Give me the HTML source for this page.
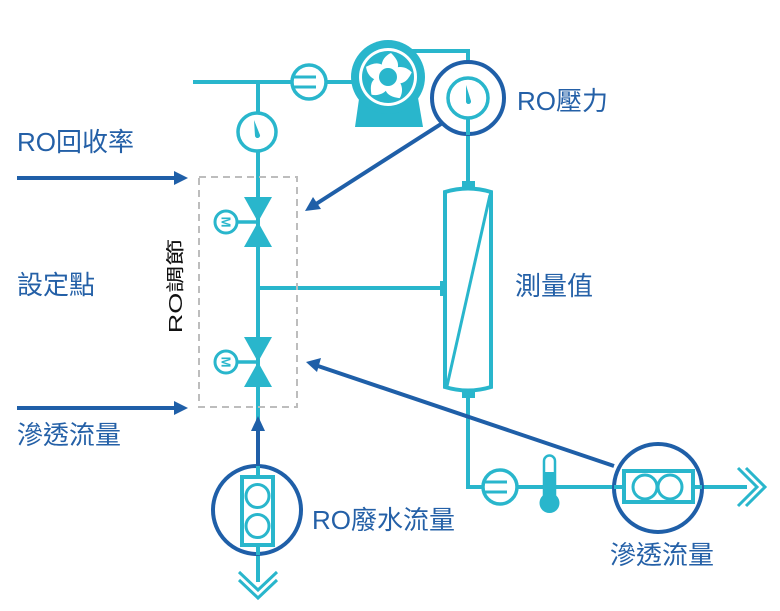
<!DOCTYPE html>
<html><head><meta charset="utf-8"><style>
html,body{margin:0;padding:0;background:#fff;}
svg{display:block;}
text{font-family:"Liberation Sans","Noto Sans CJK TC","Noto Sans CJK SC",sans-serif;}
</style></head><body>
<svg width="780" height="611" viewBox="0 0 780 611" xmlns="http://www.w3.org/2000/svg">
<g fill="none" stroke="#29b6cc" stroke-width="4">
  <line x1="193" y1="82" x2="355" y2="82"/>
  <line x1="258" y1="82" x2="258" y2="582"/>
  <polyline points="412,51 468,51 468,184"/>
  <line x1="468" y1="392" x2="468" y2="487"/>
  <line x1="466" y1="487" x2="747" y2="487"/>
  <line x1="258" y1="288" x2="444" y2="288"/>
  <path d="M445,192 Q468,185 491,192 L491,387 Q468,394 445,387 Z" stroke-width="4"/>
  <line x1="447" y1="386" x2="490" y2="195" stroke-width="3"/>
</g>
<rect x="462" y="181" width="13" height="8" fill="#29b6cc"/>
<rect x="462" y="390" width="13" height="8" fill="#29b6cc"/>
<rect x="440" y="281" width="6" height="15" fill="#29b6cc"/>

<rect x="199" y="177" width="98" height="230" fill="none" stroke="#bdbdbd" stroke-width="2" stroke-dasharray="7,5"/>

<circle cx="309" cy="82" r="17" fill="#fff" stroke="#29b6cc" stroke-width="3.5"/>
<line x1="293" y1="77" x2="316" y2="77" stroke="#29b6cc" stroke-width="3"/>
<line x1="293" y1="87" x2="316" y2="87" stroke="#29b6cc" stroke-width="3"/>

<polygon points="360,92 417,92 423,127 355,127" fill="#29b6cc"/>
<circle cx="388" cy="77" r="37" fill="#29b6cc"/>
<circle cx="388" cy="77" r="29" fill="#fff"/>
<circle cx="388" cy="77" r="26" fill="#29b6cc"/>
<g transform="translate(388,77)" fill="#fff">
  <path id="bl" d="M-6,-6 C-8,-14 -4,-21 3,-24 C8,-19 12,-14 9,-7 Z"/>
  <use href="#bl" transform="rotate(72)"/>
  <use href="#bl" transform="rotate(144)"/>
  <use href="#bl" transform="rotate(216)"/>
  <use href="#bl" transform="rotate(288)"/>
</g>
<circle cx="388" cy="77" r="9" fill="#29b6cc"/>

<circle cx="468" cy="98" r="36" fill="#fff" stroke="#1f5fa8" stroke-width="4"/>
<circle cx="468" cy="98" r="20" fill="#fff" stroke="#29b6cc" stroke-width="3.5"/>
<path d="M466,85 L471,101 A2.5,2.5 0 0 1 466,102 Z" fill="#29b6cc"/>
<line x1="468" y1="118" x2="468" y2="135" stroke="#29b6cc" stroke-width="4"/>

<circle cx="257" cy="132" r="19" fill="#fff" stroke="#29b6cc" stroke-width="3.5"/>
<path d="M254,120 L260,135 A2.5,2.5 0 0 1 255,136 Z" fill="#29b6cc"/>

<g fill="#29b6cc">
  <polygon points="244,197 272,197 258,222"/>
  <polygon points="244,247 272,247 258,222"/>
  <polygon points="244,337 272,337 258,362"/>
  <polygon points="244,387 272,387 258,362"/>
</g>
<line x1="236" y1="222" x2="258" y2="222" stroke="#29b6cc" stroke-width="3.5"/>
<line x1="236" y1="362" x2="258" y2="362" stroke="#29b6cc" stroke-width="3.5"/>
<circle cx="226" cy="222" r="11" fill="#fff" stroke="#29b6cc" stroke-width="3"/>
<circle cx="226" cy="362" r="11" fill="#fff" stroke="#29b6cc" stroke-width="3"/>
<text x="0" y="0" font-size="13" font-weight="bold" fill="#29b6cc" text-anchor="middle" transform="translate(226,222) rotate(90) translate(0,4.5)">M</text>
<text x="0" y="0" font-size="13" font-weight="bold" fill="#29b6cc" text-anchor="middle" transform="translate(226,362) rotate(90) translate(0,4.5)">M</text>

<circle cx="500" cy="487" r="17" fill="#fff" stroke="#29b6cc" stroke-width="3.5"/>
<line x1="484" y1="482" x2="507" y2="482" stroke="#29b6cc" stroke-width="3"/>
<line x1="484" y1="492" x2="507" y2="492" stroke="#29b6cc" stroke-width="3"/>
<path d="M544,496 L544,461 A5.5,5.5 0 0 1 555,461 L555,496" fill="#fff" stroke="#29b6cc" stroke-width="2.5"/>
<rect x="543" y="472" width="13" height="28" fill="#29b6cc"/>
<circle cx="549.5" cy="503" r="10" fill="#29b6cc"/>

<circle cx="658" cy="488" r="44" fill="#fff" stroke="#1f5fa8" stroke-width="4"/>
<line x1="614" y1="487" x2="702" y2="487" stroke="#29b6cc" stroke-width="4"/>
<rect x="624" y="471" width="69" height="31" fill="#fff" stroke="#29b6cc" stroke-width="4"/>
<circle cx="645" cy="487" r="12" fill="none" stroke="#29b6cc" stroke-width="3"/>
<circle cx="670" cy="487" r="12" fill="none" stroke="#29b6cc" stroke-width="3"/>
<g fill="none" stroke="#29b6cc" stroke-width="3">
  <polyline points="738,468 757,487 738,506"/>
  <polyline points="746,468 765,487 746,506"/>
</g>

<circle cx="257" cy="510" r="44" fill="#fff" stroke="#1f5fa8" stroke-width="4"/>
<line x1="258" y1="466" x2="258" y2="555" stroke="#29b6cc" stroke-width="4"/>
<rect x="242" y="477" width="31" height="68" fill="#fff" stroke="#29b6cc" stroke-width="4"/>
<circle cx="257.5" cy="496" r="11.5" fill="none" stroke="#29b6cc" stroke-width="3"/>
<circle cx="257.5" cy="526" r="11.5" fill="none" stroke="#29b6cc" stroke-width="3"/>
<g fill="none" stroke="#29b6cc" stroke-width="3">
  <polyline points="239,572 258,590 277,572"/>
  <polyline points="239,580 258,598 277,580"/>
</g>

<g stroke="#1f5fa8" stroke-width="4" fill="#1f5fa8">
  <line x1="258" y1="466" x2="258" y2="428"/>
  <polygon points="258,416 251,431 265,431" stroke="none"/>
  <line x1="17" y1="178" x2="176" y2="178"/>
  <polygon points="188,178 174,171 174,185" stroke="none"/>
  <line x1="17" y1="408" x2="176" y2="408"/>
  <polygon points="188,408 174,401 174,415" stroke="none"/>
  <line x1="441" y1="124" x2="316" y2="204"/>
  <polygon points="305,211 313,197 321,209" stroke="none"/>
  <line x1="614" y1="466" x2="318" y2="366"/>
  <polygon points="306,362 321,358 317,372" stroke="none"/>
</g>

<g fill="#2460a7" font-size="26">
  <text x="17" y="151">RO回收率</text>
  <text x="17" y="294">設定點</text>
  <text x="17" y="444">滲透流量</text>
  <text x="517" y="110">RO壓力</text>
  <text x="515" y="295">測量值</text>
  <text x="312" y="529">RO廢水流量</text>
  <text x="610" y="564">滲透流量</text>
</g>
<text x="0" y="0" font-size="25" fill="#111" text-anchor="middle" transform="translate(182,286) rotate(-90) scale(1.08,0.75)">RO調節</text>
</svg>
</body></html>
